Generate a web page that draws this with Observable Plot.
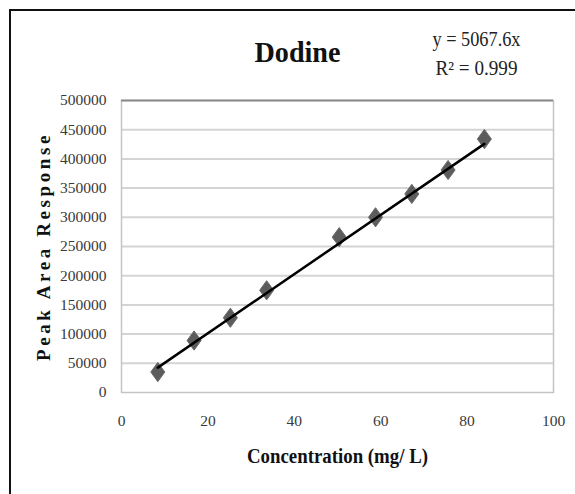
<!DOCTYPE html>
<html>
<head>
<meta charset="utf-8">
<script src="https://cdn.jsdelivr.net/npm/d3@7"></script>
<script src="https://cdn.jsdelivr.net/npm/@observablehq/plot@0.6"></script>
<style>
  html, body { margin: 0; padding: 0; background: #fff; }
  #wrap { position: relative; width: 575px; height: 494px; overflow: hidden; }
  #border { position: absolute; left: 9px; top: 9px; width: 600px; height: 600px;
            border-top: 2.5px solid #111; border-left: 2.5px solid #111; box-sizing: border-box; }
  #chart { position: absolute; left: 0; top: 0; }
</style>
</head>
<body>
<div id="wrap"><div id="border"></div><div id="chart"></div></div>
<script>
// Data
const concentration = [8.4, 16.8, 25.2, 33.6, 50.4, 58.8, 67.2, 75.6, 84];
const peakArea = [35000, 89000, 128000, 175000, 266000, 300000, 340000, 381000, 434000];
const slope = 5067.6;
const rSquared = "0.999";
const xTicks = [0, 20, 40, 60, 80, 100];
const yTicks = [0, 50000, 100000, 150000, 200000, 250000, 300000, 350000, 400000, 450000, 500000];
const title = "Dodine";
const xLabel = "Concentration (mg/ L)";
const yLabel = "Peak Area Response";
const eqLine1 = `y = ${slope}x`;
const eqLine2 = `R\u00B2 = ${rSquared}`;

const points = concentration.map((c, i) => ({x: c, y: peakArea[i]}));
const xMin = d3.min(concentration), xMax = d3.max(concentration);
const trend = [xMin, xMax].map(x => ({x, y: slope * x}));

// tall diamond symbol
const tallDiamond = {
  draw(ctx, size) {
    const r = Math.sqrt(size / Math.PI);
    const w = r * 0.95, h = r * 1.3;
    ctx.moveTo(0, -h); ctx.lineTo(w, 0); ctx.lineTo(0, h); ctx.lineTo(-w, 0); ctx.closePath();
  }
};

const serif = "'Liberation Serif', 'Times New Roman', serif";
const txt = {textAnchor: "middle", lineAnchor: "middle", fontFamily: serif};

const chart = Plot.plot({
  width: 575,
  height: 494,
  marginLeft: 121,
  marginRight: 22,
  marginTop: 100,
  marginBottom: 102,
  style: {fontFamily: serif, fontSize: "15.5px", color: "#3a3a3a", background: "transparent"},
  x: {domain: [0, 100], ticks: xTicks, tickSize: 0, tickPadding: 22, tickFormat: d => String(d), label: null},
  y: {domain: [0, 500000], ticks: yTicks, tickSize: 0, tickPadding: 15, tickFormat: d => String(d), label: null},
  marks: [
    Plot.ruleY(yTicks.filter(d => d > 0 && d < 500000), {stroke: "#d4d4d4", strokeWidth: 2}),
    Plot.frame({stroke: "#c4c4c4", strokeWidth: 1.5}),
    Plot.ruleY([500000], {stroke: "#8a8a8a", strokeWidth: 2}),
    Plot.dot(points, {x: "x", y: "y", symbol: tallDiamond, r: 7.4, fill: "#5c5c5c", stroke: "#6a6a6a", strokeWidth: 1}),
    Plot.line(trend, {x: "x", y: "y", stroke: "#000", strokeWidth: 2.5}),
    Plot.text([title], {...txt, frameAnchor: "top", dx: -40, dy: -48, fontSize: 30, fontWeight: "bold", fill: "#111"}),
    Plot.text([eqLine1], {...txt, frameAnchor: "top", dx: 139, dy: -61, fontSize: 20, fill: "#222"}),
    Plot.text([eqLine2], {...txt, frameAnchor: "top", dx: 139, dy: -32, fontSize: 20, fill: "#222"}),
    Plot.text([xLabel], {...txt, frameAnchor: "bottom", dx: 0, dy: 64, fontSize: 20, fontWeight: "bold", fill: "#111"}),
    Plot.text([yLabel], {...txt, frameAnchor: "left", dx: -78, dy: 0, rotate: -90, fontSize: 19, fontWeight: "bold", fill: "#111"})
  ]
});

// horizontal fit of some text to the reference widths
const fits = {[title]: 86, [eqLine1]: 88, [eqLine2]: 82, [xLabel]: 181};
chart.querySelectorAll("text").forEach(t => {
  const f = fits[t.textContent];
  if (f) { t.setAttribute("textLength", f); t.setAttribute("lengthAdjust", "spacingAndGlyphs"); }
  if (t.textContent === yLabel) t.style.letterSpacing = "3.6px";
});

document.getElementById("chart").appendChild(chart);
</script>
</body>
</html>
